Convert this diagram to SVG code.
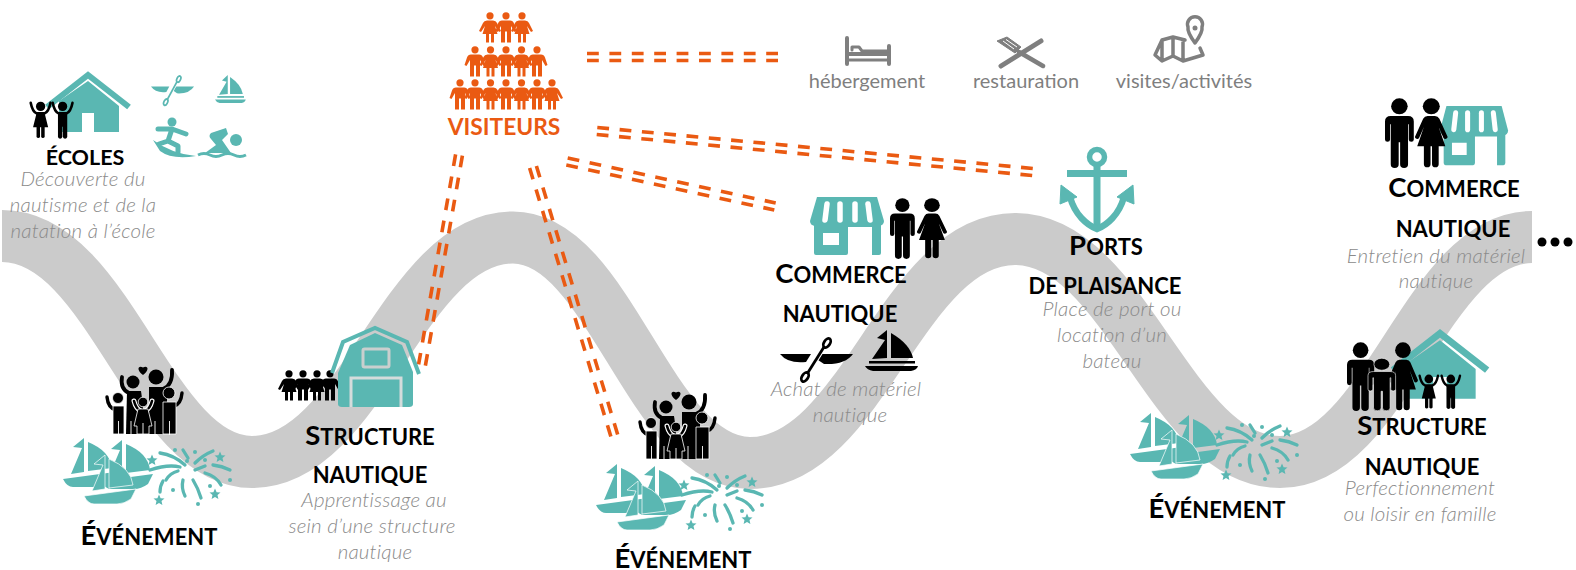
<svg xmlns="http://www.w3.org/2000/svg" xmlns:xlink="http://www.w3.org/1999/xlink" width="1576" height="570" viewBox="0 0 1576 570">
<style>
.h{font-family:"Lato","Liberation Sans",sans-serif;font-weight:700;fill:#000;text-anchor:middle;font-size:22px}
.h .c{font-size:27.5px}
.i{font-family:"Lato","Liberation Sans",sans-serif;font-weight:300;font-style:italic;fill:#8a8a8a;text-anchor:middle;font-size:20.5px;letter-spacing:.2px}
.l{font-family:"Lato","Liberation Sans",sans-serif;fill:#7f7f7f;text-anchor:middle;font-size:20px}
.t{fill:#5ab7b2}.k{fill:#000}.o{fill:#ea5a12}
.d{stroke:#ea5a12;stroke-width:3.6;stroke-dasharray:11.8 10.6;fill:none}
.fw{fill:none;stroke:#5ab7b2;stroke-width:3.3;stroke-linecap:round}
.g{fill:none;stroke:#7f7f7f;stroke-linejoin:round;stroke-linecap:round}
</style>
<defs>
<g id="man"><circle cx="20" cy="12" r="11.500"/><path d="M8 26H32Q40 26 40 34V60a3.500 3.500 0 0 1-7 0V38H32V96a5.500 5.500 0 0 1-11 0V64H19V96a5.500 5.500 0 0 1-11 0V38H7V60a3.500 3.500 0 0 1-7 0V34Q0 26 8 26Z"/></g>
<g id="woman"><circle cx="22" cy="12" r="11.500"/><path d="M17 26H27Q31 26 33 30L44 56a3 3 0 0 1-5.500 2L32 42 41 70H32V96a4.500 4.500 0 0 1-9 0V70H21V96a4.500 4.500 0 0 1-9 0V70H3L12 42 5.500 58A3 3 0 0 1 0 56L11 30Q13 26 17 26Z"/></g>
<g id="vm"><circle cx="8" cy="3.800" r="3.600"/><path d="M4 8.500H12Q15 8.500 16 11.500L18.500 19 16.500 20 13 14V30.500H9V19.500H7V30.500H3V14L-.5 20-2.500 19 0 11.500Q1 8.500 4 8.500Z"/></g>
<g id="vw"><circle cx="8" cy="3.800" r="3.600"/><path d="M5 8.500H11Q14 8.500 15 11L19 19 17 20 13 14 15.500 22H12V30.500H9V22H7V30.500H4V22H.5L3 14-1 20-3 19 1 11Q2 8.500 5 8.500Z"/></g>
<g id="boy"><circle cx="20" cy="11" r="8"/><path d="M3 5Q6 20 13 23H27Q34 20 37 5" fill="none" stroke="#000" stroke-width="4.500" stroke-linecap="round"/><path d="M12 23H28V64a4 4 0 0 1-7.500 0V46H19.500V64a4 4 0 0 1-7.500 0Z"/></g>
<g id="girl"><circle cx="20" cy="11" r="8"/><path d="M3 5Q6 20 13 23H27Q34 20 37 5" fill="none" stroke="#000" stroke-width="4.500" stroke-linecap="round"/><path d="M13 23H27L33 47H27V64a3.500 3.500 0 0 1-6 0V47H19V64a3.500 3.500 0 0 1-6 0V47H7Z"/></g>
<g id="house"><path d="M-41 34L0 2 41 34" fill="none" stroke="#5ab7b2" stroke-width="6"/><path class="t" fill-rule="evenodd" d="M-29 59V28L0 8 31 33V59ZM-6 40V59H6V40Z"/></g>
<g id="shop" class="t"><path d="M7 0H67L74 24a5 5 0 0 1-5 5H5a5 5 0 0 1-5-5Z"/><path fill-rule="evenodd" d="M4 27H71V56a2 2 0 0 1-2 2H62V30H38V56a2 2 0 0 1-2 2H6a2 2 0 0 1-2-2ZM13 36V48H29V36Z"/><g fill="none" stroke="#fff" stroke-width="5.500" stroke-linecap="round"><path d="M17 7L15 23"/><path d="M30 7V23"/><path d="M45 7V23"/><path d="M58 7L60 23"/></g></g>
<path id="star" d="M0-5.500 1.600-1.700 5.500-1.400 2.500 1.100 3.400 5 0 2.900-3.400 5-2.500 1.100-5.500-1.400-1.600-1.700Z"/>
<g id="boat"><path d="M21 1L10 10 19 11 8 37 21 35Z"/><path d="M25 5Q47 14 49 31L25 34Z"/><path d="M0 42L52 35 47 45Q40 50 33 50H10Q4 50 0 42Z"/></g>
<g id="boats" class="t"><use xlink:href="#boat"/><use xlink:href="#boat" x="38" y="2"/><use xlink:href="#boat" x="21" y="17" stroke="#fff" stroke-width=".7"/></g>
<g id="firework"><g class="fw"><path d="M2 22Q20 16 32 19"/><path d="M12 5Q26 7 37 17"/><path d="M35 2L40 10"/><path d="M47 15Q55 7 65 3"/><path d="M47 22L57 18"/><path d="M65 17Q74 18 82 22"/><path d="M57 25Q68 28 73 37"/><path d="M45 32Q50 40 53 50"/><path d="M35 32Q33 40 37 48"/><path d="M30 23Q22 25 18 32"/><path d="M15 33Q12 38 12 44"/></g><g class="t"><circle cx="27" cy="2" r="2"/><circle cx="47" cy="4" r="2"/><circle cx="39" cy="13" r="2"/><circle cx="57" cy="12" r="2"/><circle cx="82" cy="32" r="2"/><circle cx="62" cy="38" r="2"/><circle cx="25" cy="42" r="2"/><circle cx="50" cy="56" r="2"/><use xlink:href="#star" x="4" y="12"/><use xlink:href="#star" x="72" y="9"/><use xlink:href="#star" x="11" y="52"/><use xlink:href="#star" x="67" y="46"/></g></g>
<g id="family"><path d="M38 10C31 5 33 0 38 2.500 43 0 45 5 38 10Z"/><g fill="none" stroke="#000" stroke-width="3.800" stroke-linecap="round"><path d="M17 12Q15 24 24 28"/><path d="M67 5Q68 20 58 24"/></g><circle cx="28" cy="17" r="6.500"/><circle cx="51" cy="12" r="7.500"/><path d="M22 26H36L38 40V69H21Z"/><path d="M44 22H60L62 34V69H44Z"/><g stroke="#fff" stroke-width=".8"><g fill="none" stroke="#000" stroke-width="3.400" stroke-linecap="round"><path d="M2 32Q3 43 11 45"/><path d="M77 28Q76 39 69 41"/></g><circle cx="13" cy="33" r="5.500"/><circle cx="64" cy="28" r="6"/><path d="M8 41H19V69H8Z"/><path d="M58 37H71V69H58Z"/></g><g fill="none" stroke="#fff" stroke-width="5" stroke-linecap="round"><path d="M29 36Q31 44 36 46"/><path d="M47 36Q45 44 40 46"/></g><g fill="none" stroke="#000" stroke-width="2.600" stroke-linecap="round"><path d="M29 36Q31 44 36 46"/><path d="M47 36Q45 44 40 46"/></g><g stroke="#fff" stroke-width=".8"><circle cx="38" cy="37" r="4.800"/><path d="M33 44H43L47 61H44V69H32V61H29Z"/></g><g stroke="#fff" stroke-width=".9"><path d="M13.500 56V70"/><path d="M26 56V70"/><path d="M38 58V70"/><path d="M50 56V70"/><path d="M64.500 56V70"/></g></g>
<g id="kayak"><path d="M0 17H31L26 25Q8 27 0 17Z"/><path d="M42 17H73Q65 28 44 27L38 23Z"/><path d="M27 37L44 10" fill="none" stroke="#fff" stroke-width="5"/><g fill="none" stroke="currentColor" stroke-width="2.800"><path d="M27 37L44 10"/><ellipse cx="47" cy="6" rx="3" ry="5" transform="rotate(32 47 6)"/><ellipse cx="25" cy="40" rx="3" ry="5" transform="rotate(32 25 40)"/></g></g>
<g id="sail"><path d="M22 0L12 8 20 10 7 29 22 28Z"/><path d="M26 3Q45 14 48 28H26Z"/><path d="M0 36H53Q52 40 46 41H8Q2 40 0 36Z"/><path d="M4 31H50V33.500H4Z"/></g>
</defs>

<path id="wave" d="M2 236C110 236 150 462 252 462C362 462 403 237.500 513 237.500C610 237.500 650 463 750 463C863 463 902 239 1015 239C1126 239 1170 462 1280 462C1386 462 1426 237 1532 237" fill="none" stroke="#cbcbcb" stroke-width="52"/>

<g id="connectors">
<path class="d" d="M587 53.500H778"/><path class="d" d="M587 60.500H778"/>
<path class="d" d="M597.300 127.500L1033.300 168.500"/><path class="d" d="M596.700 134.500L1032.700 175.500"/>
<path class="d" d="M567.700 158L775.700 203"/><path class="d" d="M566.300 165L774.300 210"/>
<path class="d" d="M462.400 155.600L425.400 365.600"/><path class="d" d="M455.600 154.400L418.600 364.400"/>
<path class="d" d="M536.400 166L618.400 437"/><path class="d" d="M529.600 168L611.600 439"/>
</g>

<g id="ecoles">
<use xlink:href="#house" x="88" y="73"/>
<use xlink:href="#girl" transform="translate(29 100)scale(.58)"/><use xlink:href="#boy" transform="translate(51 100)scale(.58)"/>
<g class="t" color="#5ab7b2"><use xlink:href="#kayak" transform="translate(151 75)scale(.59 .68)"/><use xlink:href="#sail" transform="translate(215 75)scale(.58 .68)"/>
<g transform="translate(152 118)"><circle cx="20" cy="4" r="4.500"/><path d="M6 11H20L34 16M20 11L16 23 26 28V34M16 23L7 26" fill="none" stroke="#5ab7b2" stroke-width="5" stroke-linecap="round" stroke-linejoin="round"/><path d="M1 22Q20 36 44 38Q20 42 8 33Z"/></g>
<g transform="translate(198 127)"><circle cx="38" cy="13" r="6"/><path d="M28 1L13 6Q10 9 13 12L18 18 7 26H33L24 13 30 7Z"/><path d="M0 28q6-3 12 0t12 0t12 0t12 0" fill="none" stroke="#5ab7b2" stroke-width="3"/></g></g>
<text class="h" x="85" y="165" style="font-size:21.500px">ÉCOLES</text>
<text class="i" x="83" y="186">Découverte du</text><text class="i" x="83" y="212">nautisme et de la</text><text class="i" x="83" y="238">natation à l’école</text>
</g>

<g id="evenement-1">
<use xlink:href="#family" x="105" y="365"/><use xlink:href="#boats" x="63" y="437"/><use xlink:href="#firework" x="148" y="448"/>
<text class="h" x="149" y="545"><tspan class="c">É</tspan>VÉNEMENT</text>
</g>

<g id="structure-1">
<g class="k"><use xlink:href="#vw" x="281" y="370"/><use xlink:href="#vm" x="295" y="370"/><use xlink:href="#vw" x="309" y="370"/><use xlink:href="#vm" x="322" y="370"/></g>
<path d="M332 373L343 342 375 328 407 342 419 374" fill="none" stroke="#5ab7b2" stroke-width="4"/>
<path class="t" d="M338 404V373L350 345 375 333 402 345 413 372V404Q413 407 409 407H342Q338 407 338 404Z"/>
<rect x="363" y="349" width="26" height="18" rx="1.500" fill="#5ab7b2" stroke="#c9cfce" stroke-width="3"/>
<path d="M351 407V378H401V407" fill="#5ab7b2" stroke="#d4dcdb" stroke-width="3"/>
<text class="h" x="370" y="445"><tspan class="c">S</tspan>TRUCTURE</text><text class="h" x="370" y="483">NAUTIQUE</text>
<text class="i" x="374" y="507">Apprentissage au</text><text class="i" x="372" y="533">sein d’une structure</text><text class="i" x="375" y="559">nautique</text>
</g>

<g id="visiteurs">
<g class="o">
<use xlink:href="#vw" x="482" y="12"/><use xlink:href="#vm" x="498" y="12"/><use xlink:href="#vw" x="514" y="12"/>
<use xlink:href="#vm" x="467" y="46"/><use xlink:href="#vw" x="482.500" y="46"/><use xlink:href="#vm" x="498" y="46"/><use xlink:href="#vw" x="513.500" y="46"/><use xlink:href="#vm" x="529" y="46"/>
<use xlink:href="#vm" x="452" y="79"/><use xlink:href="#vm" x="467" y="79"/><use xlink:href="#vw" x="482.500" y="79"/><use xlink:href="#vm" x="498" y="79"/><use xlink:href="#vw" x="513.500" y="79"/><use xlink:href="#vm" x="529" y="79"/><use xlink:href="#vw" x="544" y="79"/>
</g>
<text class="h" x="504" y="135" style="font-size:22.800px;fill:#ea5a12">VISITEURS</text>
</g>

<g id="hebergement">
<path class="g" stroke-width="4" d="M847 38V64M889 46V64M847 54H889"/><path class="g" stroke-width="3" d="M847 60H889M852 50V47H859L862 51H889"/>
<text class="l" x="867" y="88">hébergement</text>
</g>
<g id="restauration">
<path class="g" stroke-width="5" d="M1041 41L1001 66"/><path class="g" stroke-width="4.500" d="M1019 52L1043 66"/><path d="M997 41L1007 37 1021 47 1015 53Z" fill="#7f7f7f" stroke="#7f7f7f"/><path d="M1003 41L1014 49M1006 39.500L1017 47" stroke="#fff" fill="none"/>
<text class="l" x="1026" y="88">restauration</text>
</g>
<g id="visites">
<path class="g" stroke-width="3.500" d="M1185 40L1173 37 1162 40 1155 55 1162 61 1173 56 1183 61 1203 55 1200 48M1162 40V61M1173 37V56M1183 42V61"/><path class="g" stroke-width="3.500" d="M1195 43Q1187 32 1188 27A7.500 7.500 0 1 1 1202 27Q1203 32 1195 43Z"/><circle cx="1195" cy="28" r="2.500" fill="#7f7f7f"/>
<text class="l" x="1184" y="88">visites/activités</text>
</g>

<g id="commerce-1">
<use xlink:href="#shop" x="810" y="197"/><use xlink:href="#man" transform="translate(890 198)scale(.62 .6)"/><use xlink:href="#woman" transform="translate(917 198)scale(.68 .6)"/>
<text class="h" x="841" y="283"><tspan class="c">C</tspan>OMMERCE</text><text class="h" x="840" y="322">NAUTIQUE</text>
<g color="#000"><use xlink:href="#kayak" x="780" y="337"/><use xlink:href="#sail" x="865" y="330"/></g>
<text class="i" x="846" y="396">Achat de matériel</text><text class="i" x="850" y="422">nautique</text>
</g>

<g id="ports">
<g transform="translate(1097 157)"><circle r="7.500" fill="none" stroke="#5ab7b2" stroke-width="5.500"/><path class="t" d="M-30 13H30V20H-30ZM-3.500 10H3.500V72H-3.500Z"/><path d="M-27 40C-22 58-10 68 0 72C10 68 22 58 27 40" fill="none" stroke="#5ab7b2" stroke-width="6.500"/><path class="t" d="M-36 28L-20 40-37 47ZM36 28L20 40 37 47Z" stroke="#5ab7b2" stroke-linejoin="round"/></g>
<text class="h" x="1106" y="255"><tspan class="c">P</tspan>ORTS</text><text class="h" x="1105" y="294">DE PLAISANCE</text>
<text class="i" x="1112" y="316">Place de port ou</text><text class="i" x="1112" y="342">location d’un</text><text class="i" x="1112" y="368">bateau</text>
</g>

<g id="commerce-2">
<use xlink:href="#shop" transform="translate(1440 106)scale(.92 1.02)"/><use xlink:href="#man" transform="translate(1385 98)scale(.72 .69)"/><use xlink:href="#woman" transform="translate(1415 98)scale(.74 .69)"/>
<text class="h" x="1454" y="197"><tspan class="c">C</tspan>OMMERCE</text><text class="h" x="1453" y="237">NAUTIQUE</text>
<text class="i" x="1436" y="263">Entretien du matériel</text><text class="i" x="1436" y="288">nautique</text>
</g>
<g id="suite"><circle cx="1542" cy="242" r="4.500"/><circle cx="1555" cy="242" r="4.500"/><circle cx="1568" cy="242" r="4.500"/></g>

<g id="evenement-2">
<use xlink:href="#family" x="638" y="390"/><use xlink:href="#boats" x="596" y="463"/><use xlink:href="#firework" x="680" y="473"/>
<text class="h" x="683" y="568"><tspan class="c">É</tspan>VÉNEMENT</text>
</g>
<g id="evenement-3">
<use xlink:href="#boats" x="1130" y="412"/><use xlink:href="#firework" x="1215" y="423"/>
<text class="h" x="1217" y="518"><tspan class="c">É</tspan>VÉNEMENT</text>
</g>

<g id="structure-2">
<use xlink:href="#house" transform="translate(1440 331)scale(1.15)"/>
<use xlink:href="#man" transform="translate(1347 342)scale(.68)"/><use xlink:href="#woman" transform="translate(1388 342)scale(.68)"/><g stroke="#fff" stroke-width="1"><use xlink:href="#man" transform="translate(1368 358)scale(.69 .52)"/></g>
<use xlink:href="#girl" transform="translate(1418 373)scale(.54)"/><use xlink:href="#boy" transform="translate(1440 373)scale(.54)"/>
<text class="h" x="1422" y="435"><tspan class="c">S</tspan>TRUCTURE</text><text class="h" x="1422" y="475">NAUTIQUE</text>
<text class="i" x="1420" y="495">Perfectionnement</text><text class="i" x="1420" y="521">ou loisir en famille</text>
</g>
</svg>
